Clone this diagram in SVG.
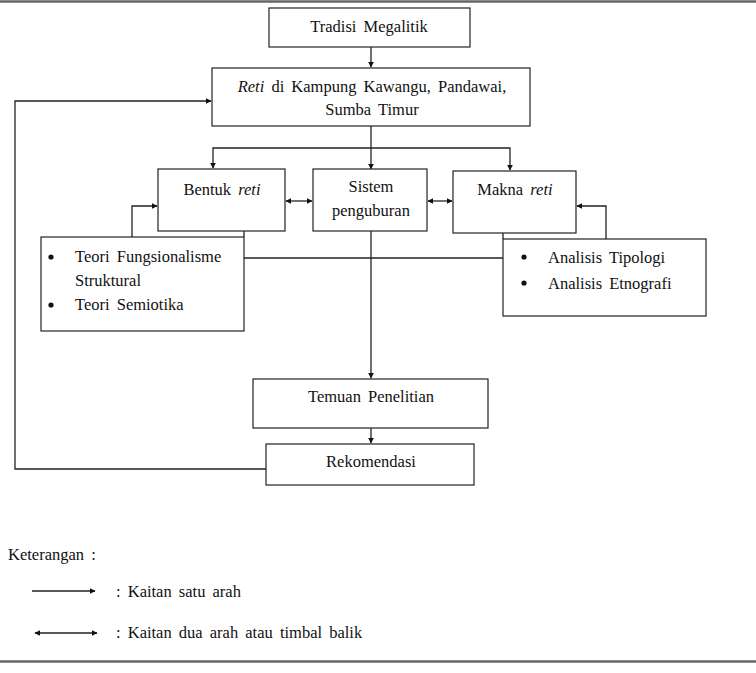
<svg xmlns="http://www.w3.org/2000/svg" width="756" height="673" viewBox="0 0 756 673">
<style>
text{font-family:"Liberation Serif","Times New Roman",serif;font-size:16.5px;fill:#111;word-spacing:3px}
.box{fill:#fff;stroke:#222;stroke-width:1.2}
.ln{fill:none;stroke:#222;stroke-width:1.3}
.rule{stroke:#666;stroke-width:2.5}
.dot{fill:#111}
</style>
<defs>
<marker id="ah" viewBox="0 0 10 10" refX="9" refY="5" markerWidth="6" markerHeight="6" orient="auto-start-reverse" markerUnits="userSpaceOnUse"><path d="M0,0 L10,5 L0,10 z" fill="#111"/></marker>
</defs>
<rect width="756" height="673" fill="#fff"/>
<line class="rule" x1="0" y1="1.5" x2="756" y2="1.5"/>
<line class="rule" x1="0" y1="661.5" x2="756" y2="661.5"/>
<g id="connectors">
<line class="ln" x1="371" y1="47" x2="371" y2="67" marker-end="url(#ah)"/>
<line class="ln" x1="371" y1="126" x2="371" y2="169" marker-end="url(#ah)"/>
<polyline class="ln" points="371,148 213,148 213,168" marker-end="url(#ah)"/>
<polyline class="ln" points="371,148 510,148 510,170" marker-end="url(#ah)"/>
<line class="ln" x1="286" y1="201" x2="312" y2="201" marker-start="url(#ah)" marker-end="url(#ah)"/>
<line class="ln" x1="428" y1="201" x2="452" y2="201" marker-start="url(#ah)" marker-end="url(#ah)"/>
<polyline class="ln" points="132,237 132,206 157,206" marker-end="url(#ah)"/>
<polyline class="ln" points="606,239 606,206 577,206" marker-end="url(#ah)"/>
<line class="ln" x1="244" y1="231" x2="244" y2="237"/>
<line class="ln" x1="503" y1="233" x2="503" y2="239"/>
<line class="ln" x1="244" y1="258" x2="503" y2="258"/>
<line class="ln" x1="371" y1="231" x2="371" y2="378" marker-end="url(#ah)"/>
<line class="ln" x1="371" y1="428" x2="371" y2="443" marker-end="url(#ah)"/>
<polyline class="ln" points="266,469 15,469 15,101 211,101" marker-end="url(#ah)"/>
</g>
<g id="tradisi"><rect class="box" x="269" y="8" width="201" height="39"/><text x="369" y="32" text-anchor="middle">Tradisi  Megalitik</text></g>
<g id="reti"><rect class="box" x="212" y="68" width="318" height="58"/><text x="372" y="92" text-anchor="middle"><tspan font-style="italic">Reti</tspan> di Kampung  Kawangu,  Pandawai,</text><text x="372" y="115" text-anchor="middle">Sumba  Timur</text></g>
<g id="bentuk"><rect class="box" x="158" y="169" width="127" height="62"/><text x="222" y="195" text-anchor="middle">Bentuk  <tspan font-style="italic">reti</tspan></text></g>
<g id="sistem"><rect class="box" x="313" y="169" width="114" height="62"/><text x="371" y="192" text-anchor="middle">Sistem</text><text x="371" y="216" text-anchor="middle">penguburan</text></g>
<g id="makna"><rect class="box" x="453" y="171" width="123" height="62"/><text x="515" y="195" text-anchor="middle">Makna <tspan font-style="italic">reti</tspan></text></g>
<g id="teori"><rect class="box" x="41" y="237" width="203" height="94"/>
<circle class="dot" cx="51" cy="257" r="2.6"/><text x="75" y="262">Teori  Fungsionalisme</text>
<text x="75" y="286">Struktural</text>
<circle class="dot" cx="51" cy="305" r="2.6"/><text x="75" y="310">Teori  Semiotika</text></g>
<g id="analisis"><rect class="box" x="503" y="239" width="203" height="77"/>
<circle class="dot" cx="524" cy="257" r="2.6"/><text x="548" y="263">Analisis  Tipologi</text>
<circle class="dot" cx="524" cy="283" r="2.6"/><text x="548" y="289">Analisis  Etnografi</text></g>
<g id="temuan"><rect class="box" x="253" y="379" width="235" height="49"/><text x="371" y="402" text-anchor="middle">Temuan  Penelitian</text></g>
<g id="rekomendasi"><rect class="box" x="266" y="444" width="208" height="41"/><text x="371" y="467" text-anchor="middle">Rekomendasi</text></g>
<g id="legend">
<text x="8" y="560">Keterangan  :</text>
<line class="ln" x1="32" y1="591" x2="95" y2="591" marker-end="url(#ah)"/>
<text x="116" y="597">: Kaitan  satu  arah</text>
<line class="ln" x1="35" y1="633" x2="97" y2="633" marker-start="url(#ah)" marker-end="url(#ah)"/>
<text x="116" y="638">: Kaitan  dua  arah  atau  timbal  balik</text>
</g>
</svg>
